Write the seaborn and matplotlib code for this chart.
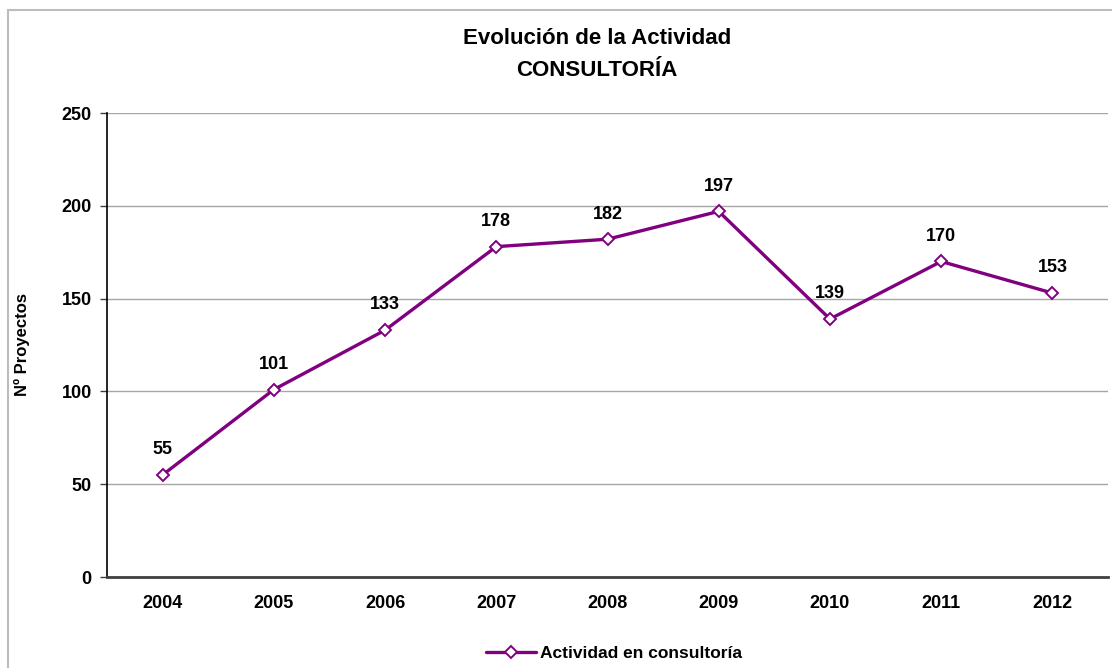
import numpy as np
import pandas as pd
import matplotlib
matplotlib.use('Agg')
import matplotlib.pyplot as plt
import seaborn as sns
from matplotlib.patches import Rectangle

# Data
years = ['2004', '2005', '2006', '2007', '2008', '2009', '2010', '2011', '2012']
proyectos = [55, 101, 133, 178, 182, 197, 139, 170, 153]
serie = 'Actividad en consultoría'

sns.set_theme(style="white")
plt.rcParams['font.family'] = ['Liberation Sans', 'DejaVu Sans']
plt.rcParams['font.weight'] = 'bold'
plt.rcParams['text.color'] = 'black'
plt.rcParams['xtick.color'] = 'black'
plt.rcParams['ytick.color'] = 'black'
plt.rcParams['axes.labelcolor'] = 'black'

PURPLE = '#800080'
FS = 13

df = pd.DataFrame({'year': years, 'n': proyectos})

fig = plt.figure(figsize=(11.12, 6.68), dpi=100)
fig.patch.set_facecolor('white')
# outer chart border (cut off at right/bottom like the original)
fig.add_artist(Rectangle((8 / 1112, -0.1), 1.2, 1 - 10 / 668 + 0.1,
                         transform=fig.transFigure, fill=False,
                         edgecolor='#bdbdbd', linewidth=1.5))

ax = fig.add_axes([107 / 1112, 1 - 577 / 668, 1001 / 1112, 464 / 668])

sns.lineplot(data=df, x='year', y='n', ax=ax, color=PURPLE, linewidth=2.4,
             marker='D', markersize=6, markerfacecolor='white',
             markeredgecolor=PURPLE, markeredgewidth=1.4, label=serie, sort=False)

# data labels
for i, v in enumerate(proyectos):
    ax.annotate(str(v), (i, v), xytext=(0, 12), textcoords='offset points',
                ha='center', va='bottom', fontsize=FS, fontweight='bold', color='black')

ax.set_xlim(-0.5, len(years) - 0.5)
ax.set_ylim(0, 250)
ax.set_yticks(np.arange(0, 251, 50))
ax.yaxis.grid(True, color='#a6a6a6', linewidth=1)
ax.xaxis.grid(False)
ax.set_axisbelow(True)

ax.set_xticks(range(len(years)))
ax.set_xticks(np.arange(-0.5, len(years), 1), minor=True)
ax.tick_params(axis='x', which='major', length=0, pad=13, labelsize=FS)
ax.tick_params(axis='x', which='minor', length=5, width=1, color='#404040', direction='out')
ax.tick_params(axis='y', which='major', length=5, width=1, color='#404040', direction='out',
               pad=6, labelsize=FS, left=True)
for lab in ax.get_xticklabels() + ax.get_yticklabels():
    lab.set_fontweight('bold')

for s in ['top', 'right']:
    ax.spines[s].set_visible(False)
ax.spines['left'].set_color('black')
ax.spines['left'].set_linewidth(1.2)
ax.spines['bottom'].set_color('#404040')
ax.spines['bottom'].set_linewidth(2)

ax.set_xlabel('')
ax.set_ylabel('Nº Proyectos', fontsize=12, fontweight='bold')
ax.yaxis.set_label_coords((30 - 107) / 1001, 0.5)

fig.text(597 / 1112, 1 - 38 / 668, 'Evolución de la Actividad', ha='center', va='center',
         fontsize=16, fontweight='bold')
fig.text(597 / 1112, 1 - 70 / 668, 'CONSULTORÍA', ha='center', va='center',
         fontsize=16, fontweight='bold')

leg = ax.legend(loc='center', bbox_to_anchor=(614 / 1112, 1 - 653 / 668),
                bbox_transform=fig.transFigure, frameon=False, fontsize=12.5,
                handlelength=2.9, handletextpad=0.2)
for t in leg.get_texts():
    t.set_fontweight('bold')

fig.savefig('out.png', dpi=100)
